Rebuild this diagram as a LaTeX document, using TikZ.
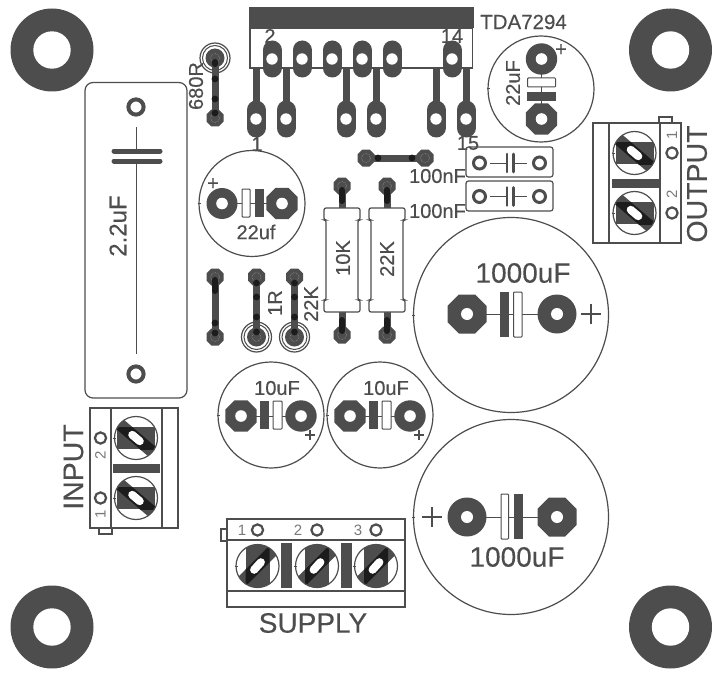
\documentclass[tikz,border=0pt]{standalone}
\usepackage{fontspec}
\setmainfont{Liberation Sans}[FakeBold=0.3]
\newfontfamily\plainfont{Liberation Sans}
\definecolor{pcb}{HTML}{4D4D4D}
\definecolor{blk}{HTML}{1C1C1C}
\tikzset{
 txt/.style={font=\fontsize{#1}{#1}\selectfont,text=pcb,inner sep=0pt},
 thin txt/.style={font=\plainfont\fontsize{#1}{#1}\selectfont,text=pcb!75,inner sep=0pt},
 ol/.style={draw=pcb,line width=1.2pt},
 tl/.style={draw=pcb,line width=1.6pt},
 fine/.style={draw=pcb,line width=1pt},
 plus/.style={draw=pcb,line width=1.5pt},
}
% octagon pad: x y apothem holeradius
\newcommand\octpad[4]{\fill[pcb,shift={(#1,#2)}] (22.5:#3/0.92388) -- (67.5:#3/0.92388) -- (112.5:#3/0.92388) -- (157.5:#3/0.92388) -- (202.5:#3/0.92388) -- (247.5:#3/0.92388) -- (292.5:#3/0.92388) -- (337.5:#3/0.92388) -- cycle;
 \fill[white] (#1,#2) circle (#4);}
\newcommand\roundpad[4]{\fill[pcb] (#1,#2) circle (#3); \fill[white] (#1,#2) circle (#4);}
% oval pad
\newcommand\ovalpad[2]{\draw[pcb,line width=19pt,line cap=round] (#1,#2-9) -- (#1,#2+9); \fill[white] (#1,#2) circle (5.7);}
% small via on a jumper
\newcommand\via[2]{\fill[pcb,shift={(#1,#2)}] (22.5:9.2) -- (67.5:9.2) -- (112.5:9.2) -- (157.5:9.2) -- (202.5:9.2) -- (247.5:9.2) -- (292.5:9.2) -- (337.5:9.2) -- cycle;
 \draw[gray!70,line width=.5pt,densely dotted] (#1,#2) circle (4.5);}
\newcommand\ringpad[2]{\draw[ol] (#1,#2) circle (15); \draw[fine] (#1,#2) circle (12.5);
 \fill[pcb] (#1,#2) circle (9.5); \draw[gray!70,line width=.5pt,densely dotted] (#1,#2) circle (4.5);}
% trace with black dots
\newcommand\bdot[2]{\fill[blk] (#1,#2) circle (3.4);}
\newcommand\cancirc[3]{\draw[ol] (#1,#2) circle (#3); \draw[fine] (#1-#3-1.5,#2) -- (#1-#3+1.5,#2);}
\newcommand\whiteplate[4]{\draw[fine,fill=white,rounded corners=.8pt] (#1,#2) rectangle (#3,#4);}
\newcommand\darkplate[4]{\fill[pcb] (#1,#2) rectangle (#3,#4);}
% screws
\newcommand\screwh[2]{\begin{scope}[shift={(#1,#2)}]
 \begin{scope}\clip (0,0) circle (21.5);
 \fill[pcb] (-19,-11) rectangle (19,11);
 \draw[pcb,line width=12pt] (-17,-14.5) -- (17,14.5);
 \begin{scope}\clip (-19,-11) rectangle (19,11);
 \draw[blk,line width=12pt] (-17,-14.5) -- (17,14.5);\end{scope}
 \draw[white,line width=8pt,line cap=round] (-3.8,-3.2) -- (3.8,3.2);
 \end{scope}
 \draw[ol] (0,0) circle (21.5);\draw[fine] (-23,0) -- (-20,0);
\end{scope}}
\newcommand\screwv[2]{\begin{scope}[shift={(#1,#2)}]
 \begin{scope}\clip (0,0) circle (21.5);
 \fill[pcb] (-12,-22) rectangle (12,22);
 \draw[pcb,line width=12pt] (-16,16) -- (16,-16);
 \begin{scope}\clip (-12,-22) rectangle (12,22);
 \draw[blk,line width=12pt] (-16,16) -- (16,-16);\end{scope}
 \draw[white,line width=8pt,line cap=round] (-3.4,3.8) -- (3.4,-3.8);
 \end{scope}
 \draw[ol] (0,0) circle (21.5);\draw[fine] (-23,0) -- (-20,0);
\end{scope}}
\newcommand\resbody[1]{\draw[ol,fill=white,rounded corners=2pt] (#1-18,208) -- (#1+18,208) -- (#1+18,220) -- (#1+16,220) -- (#1+16,300) -- (#1+18,300) -- (#1+18,312) -- (#1-18,312) -- (#1-18,300) -- (#1-16,300) -- (#1-16,220) -- (#1-18,220) -- cycle;}
\begin{document}
\begin{tikzpicture}[x=1pt,y=-1pt]
\useasboundingbox (0,0) rectangle (722,674);
\fill[white] (0,0) rectangle (722,674);

% mounting holes
\foreach \mx/\my in {52/50,670.5/50,52/627,670.5/627}{\roundpad{\mx}{\my}{41.5}{18.7}}

% IC
\foreach \tx in {256,286,346,376,436,466}{\draw[pcb,line width=7pt] (\tx,68) -- (\tx,110);}
\foreach \tx in {272,302,332,362,392,452}{\ovalpad{\tx}{59}}
\foreach \tx in {256,286,346,376,436,466}{\ovalpad{\tx}{119}}
\draw[tl] (250,28) rectangle (472.5,68);
\fill[pcb] (249,7) rectangle (474,28);
\node[txt=20] (pintwo) at (270,36) {2};
\node[txt=20] (pinfourteen) at (452,36) {14};
\node[txt=20.5,anchor=west] (icname) at (480,22) {TDA7294};
\node[txt=20] (pinone) at (257,144) {1};
\node[txt=20] (pinfifteen) at (468,143) {15};

% 680R
\draw[pcb,line width=7pt] (215,58) -- (215,118);
\ringpad{215}{58}
\via{215}{118}
\draw[blk,line width=6pt,line cap=round] (215,62) -- (215,64);
\bdot{215}{79}\bdot{215}{99}\bdot{215}{113}
\node[txt=20,rotate=90] (rsix) at (196,86) {680R};

% 2.2uF
\draw[ol,rounded corners=8pt] (85,82.5) rectangle (187,398);
\draw[pcb,line width=4pt] (136,107) circle (7.6);
\draw[pcb,line width=4pt] (136,374) circle (7.6);
\draw[fine] (136,127) -- (136,151);
\draw[fine] (136,161) -- (136,354);
\draw[pcb,line width=5pt,line cap=round] (114,151) -- (160,151);
\draw[pcb,line width=5pt,line cap=round] (114,161) -- (160,161);
\node[txt=24,rotate=90] (ctwo) at (118,226) {2.2uF};

% 22uF top right
\cancirc{541}{89}{53}
\draw[fine] (541,59) -- (541,119);
\roundpad{541.5}{59}{15.7}{5.8}
\octpad{541.5}{119}{15.7}{5.8}
\whiteplate{527.5}{78}{555.5}{87}
\darkplate{527}{92}{556}{101.5}
\node[txt=20] (ptr) at (561,50) {+};
\node[txt=20,rotate=90] (ctr) at (513,83) {22uF};

% 100nF boxes
\foreach \by/\bt in {147/163,181/196.5}{
 \draw[ol,rounded corners=2.5pt] (466,\by) rectangle (553,\by+30);
 \draw[pcb,line width=3pt] (479.5,\bt) circle (6);
 \draw[pcb,line width=3pt] (539.5,\bt) circle (6);
 \draw[fine] (490,\bt) -- (507,\bt);
 \draw[fine] (513,\bt) -- (527,\bt);
 \draw[pcb,line width=2.6pt,line cap=round] (507,\bt-9) -- (507,\bt+9);
 \draw[pcb,line width=2.6pt,line cap=round] (513.5,\bt-9) -- (513.5,\bt+9);
}
\node[txt=20,anchor=east] (cna) at (466,176) {100nF};
\node[txt=20,anchor=east] (cnb) at (466,211) {100nF};

% OUTPUT terminal
\draw[tl] (659,123) -- (659,117) -- (672,117) -- (672,123);
\draw[tl,fill=white] (593,123) rectangle (681,243);
\draw[tl] (609,123) -- (609,243);
\draw[tl] (660,123) -- (660,243);
\screwh{634.5}{153}
\screwh{634.5}{213}
\darkplate{612}{179}{660}{188}
\draw[pcb,line width=2.2pt] (672,153) circle (5.6);
\draw[pcb,line width=2.2pt] (672,213) circle (5.6);
\node[thin txt=15,rotate=90] (oa) at (672,135) {1};
\node[thin txt=15,rotate=90] (ob) at (672,194) {2};
\node[txt=28.5,rotate=90] (outlabel) at (697,184) {OUTPUT};

% lower-left 22uf
\cancirc{252}{203.5}{53}
\draw[fine] (222,203.5) -- (282,203.5);
\roundpad{222}{203.5}{15.5}{5.8}
\octpad{282}{203.5}{15.7}{5.8}
\whiteplate{242}{189}{250}{217}
\darkplate{254.5}{189}{264}{217}
\node[txt=20] (plc) at (213,184) {+};
\node[txt=20] (clc) at (256,232) {22uf};

% jumper 100nF line
\draw[pcb,line width=7pt] (366,158) -- (425,158);
\via{366}{158}\via{425}{158}
\bdot{378}{158}\bdot{412}{158}

% resistors
\foreach \rx in {342,387}{
 \draw[pcb,line width=7pt] (\rx,186) -- (\rx,335);
 \via{\rx}{186}\via{\rx}{335}
 \draw[blk,line width=6pt,line cap=round] (\rx,190) -- (\rx,201);
 \draw[blk,line width=6pt,line cap=round] (\rx,320) -- (\rx,331);
 \resbody{\rx}
}
\node[txt=20,rotate=90] (rten) at (343,258) {10K};
\node[txt=20,rotate=90] (rtt) at (387,259) {22K};

% lower wires
\draw[pcb,line width=7pt] (215,277) -- (215,337);
\via{215}{277}\via{215}{337}
\draw[blk,line width=6pt,line cap=round] (215,280) -- (215,291);
\bdot{215}{323}\bdot{215}{333}
\foreach \wx in {256.5,294.5}{
 \draw[pcb,line width=7pt] (\wx,277) -- (\wx,337);
 \via{\wx}{277}\ringpad{\wx}{337}
 \bdot{\wx}{283}\bdot{\wx}{297}\bdot{\wx}{317}\bdot{\wx}{332}
}
\node[txt=20,rotate=90] (rone) at (275,303) {1R};
\node[txt=20,rotate=90] (rtk) at (311,304) {22K};

% big caps
\cancirc{511}{315}{97.5}
\draw[fine] (467,314) -- (557,314);
\octpad{467}{314}{19.5}{6}
\roundpad{557}{314}{19.5}{6}
\darkplate{500}{292}{509}{337}
\whiteplate{513.5}{292}{522}{337}
\draw[plus] (581,314) -- (601,314); \draw[plus] (591,304) -- (591,324);
\node[txt=28] (cbu) at (523,273) {1000uF};

\cancirc{511}{517}{97.5}
\draw[fine] (467,517) -- (557,517);
\roundpad{467}{517}{19.5}{6}
\octpad{557}{517}{19.5}{6}
\whiteplate{501}{494}{508.5}{539}
\darkplate{514}{494}{523}{539}
\draw[plus] (422,517) -- (442,517); \draw[plus] (432,507) -- (432,527);
\node[txt=28] (cbl) at (517,557) {1000uF};

% 10uF caps
\foreach \cx/\name in {271/a,380/b}{
 \cancirc{\cx}{415}{53}
 \draw[fine] (\cx-30,416) -- (\cx+30,416);
 \octpad{\cx-30}{416}{15.7}{5.8}
 \roundpad{\cx+30}{416}{15.7}{5.8}
 \darkplate{\cx-11}{401}{\cx-2}{429}
 \whiteplate{\cx+2}{401}{\cx+11}{429}
 \draw[plus] (\cx+34,435) -- (\cx+44,435); \draw[plus] (\cx+39,430) -- (\cx+39,440);
 \node[txt=20] (cten\name) at (\cx+6,388) {10uF};
}

% INPUT terminal
\draw[tl] (99,528) -- (99,534) -- (112,534) -- (112,528);
\draw[tl,fill=white] (90,408) rectangle (178,528);
\draw[tl] (111,408) -- (111,528);
\draw[tl] (162,408) -- (162,528);
\screwh{136}{438}
\screwh{136}{498}
\darkplate{113}{464}{160}{473}
\draw[pcb,line width=2.2pt] (100.5,438) circle (5.6);
\draw[pcb,line width=2.2pt] (100.5,498) circle (5.6);
\node[thin txt=15,rotate=90] (ia) at (100.5,455) {2};
\node[thin txt=15,rotate=90] (ib) at (100.5,514) {1};
\node[txt=28.5,rotate=90] (inlabel) at (73.5,467) {INPUT};

% SUPPLY terminal
\draw[tl] (227,529) -- (221,529) -- (221,541) -- (227,541);
\draw[tl,fill=white] (227,519) rectangle (405,607);
\draw[tl] (227,540) -- (405,540);
\draw[tl] (227,591) -- (405,591);
\screwv{257.5}{566}
\screwv{317}{566}
\screwv{376}{566}
\darkplate{281}{543}{292}{588}
\darkplate{341}{543}{352}{588}
\foreach \hx in {257.5,317,376}{\draw[pcb,line width=2.2pt] (\hx,530) circle (5.6);}
\node[thin txt=15] (sa) at (242,530) {1};
\node[thin txt=15] (sb) at (298,530) {2};
\node[thin txt=15] (sc) at (358,530) {3};
\node[txt=28] (supplylabel) at (313,623) {SUPPLY};
\end{tikzpicture}
\end{document}
